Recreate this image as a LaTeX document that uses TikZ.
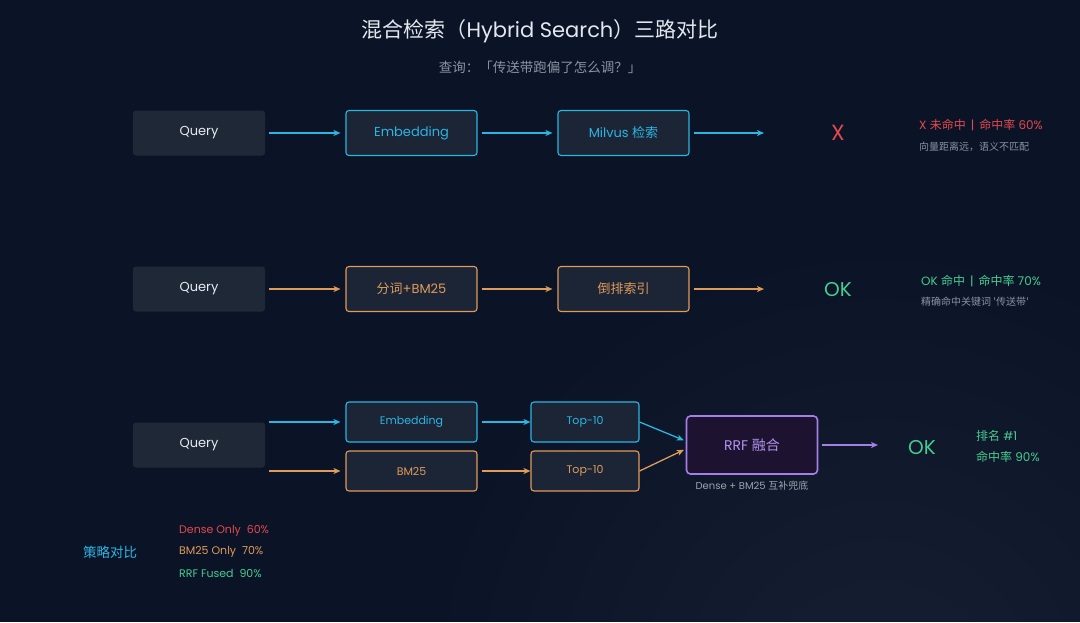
\documentclass[tikz,border=0pt]{standalone}
\usepackage{fontspec}
\setmainfont{Poppins}
\newfontfamily\cjk{Noto Sans CJK SC}
\newcommand{\zh}[1]{{\cjk #1}}
\newcommand{\sep}{\hspace{5pt}|\hspace{5pt}}
\usepackage{xcolor}
\usetikzlibrary{arrows.meta}

\definecolor{bgnavy}{HTML}{0B1426}
\definecolor{qfill}{HTML}{1F2836}
\definecolor{boxfill}{HTML}{1B2536}
\definecolor{rrffill}{HTML}{1D1331}
\definecolor{cyanline}{HTML}{2BB5E3}
\definecolor{orangeline}{HTML}{E09A5A}
\definecolor{purpleline}{HTML}{A47FE8}
\definecolor{redtext}{HTML}{E5484D}
\definecolor{greentext}{HTML}{45CC90}
\definecolor{greytext}{HTML}{8A93A3}
\definecolor{titletext}{HTML}{E3E8EF}

\begin{document}
\begin{tikzpicture}[x=1pt,y=-1pt]
	
	\tikzset{
		query/.style={fill=qfill, rounded corners=3pt,
			minimum width=132pt, minimum height=45pt,
			text=titletext!90, font=\fontsize{13}{15}\selectfont},
		stage/.style={draw=#1, fill=boxfill, rounded corners=3pt,
			line width=1.1pt, minimum width=131pt, minimum height=45pt,
			text=#1, font=\fontsize{13}{15}\selectfont},
		substage/.style={stage=#1, minimum height=40pt,
			font=\fontsize{11}{13}\selectfont},
		flow/.style={draw=#1, line width=1.3pt,
			-{Stealth[length=7pt,width=6pt,inset=2pt]}},
		note/.style={anchor=west, inner sep=0pt, font=\fontsize{12}{14}\selectfont},
		hint/.style={anchor=west, inner sep=0pt, text=greytext,
			font=\fontsize{10}{12}\selectfont},
		verdict/.style={font=\fontsize{20}{24}\selectfont}
	}
	
	\useasboundingbox (0,0) rectangle (1080,622);
	\fill[bgnavy] (0,0) rectangle (1080,622);
	\begin{scope}
		\clip (0,0) rectangle (1080,622);
		\foreach \r in {440,400,...,120}
			\fill[white, opacity=0.007] (880,700) circle (\r);
	\end{scope}
	
	% title
	\node[text=titletext, font=\fontsize{21}{25}\selectfont] (title) at (540,31)
		{\zh{混合检索（}Hybrid Search\zh{）三路对比}};
	\node[text=greytext, font=\fontsize{13.5}{16}\cjk] (ask) at (540,67)
		{查询：「传送带跑偏了怎么调？」};
	
	% dense only
	\node[query] (q1) at (199,133) {Query};
	\node[stage=cyanline] (e1) at (411.5,133) {Embedding};
	\node[stage=cyanline] (m1) at (623.5,133) {Milvus \zh{检索}};
	\coordinate (end1) at (764,133);
	\node[verdict, text=redtext, font=\fontsize{22}{26}\selectfont] (x1) at (838,133) {X};
	\draw[flow=cyanline, shorten <=4pt, shorten >=5pt] (q1) -- (e1);
	\draw[flow=cyanline, shorten <=4pt, shorten >=5pt] (e1) -- (m1);
	\draw[flow=cyanline, shorten <=4pt] (m1) -- (end1);
	\node[note, text=redtext] (r1) at (919,125) {X \zh{未命中}\sep\zh{命中率} 60\%};
	\node[hint] (d1) at (919,147) {\zh{向量距离远，语义不匹配}};
	
	% bm25 only
	\node[query] (q2) at (199,289) {Query};
	\node[stage=orangeline] (e2) at (411.5,289) {\zh{分词}+BM25};
	\node[stage=orangeline] (m2) at (623.5,289) {\zh{倒排索引}};
	\coordinate (end2) at (764,289);
	\node[verdict, text=greentext] (x2) at (838,290) {OK};
	\draw[flow=orangeline, shorten <=4pt, shorten >=5pt] (q2) -- (e2);
	\draw[flow=orangeline, shorten <=4pt, shorten >=5pt] (e2) -- (m2);
	\draw[flow=orangeline, shorten <=4pt] (m2) -- (end2);
	\node[note, text=greentext] (r2) at (921,281) {OK \zh{命中}\sep\zh{命中率} 70\%};
	\node[hint] (d2) at (921,302) {\zh{精确命中关键词 '传送带'}};
	
	% rrf fused
	\node[query] (q3) at (199,445) {Query};
	\node[substage=cyanline] (e3) at (411.5,422) {Embedding};
	\node[substage=orangeline] (b3) at (411.5,471) {BM25};
	\node[substage=cyanline, minimum width=108pt] (t3) at (585,422) {Top-10};
	\node[substage=orangeline, minimum width=108pt] (u3) at (585,471) {Top-10};
	\node[draw=purpleline, fill=rrffill, rounded corners=4pt, line width=1.6pt,
		minimum width=131pt, minimum height=58pt, text=purpleline!85!white,
		font=\fontsize{14}{16}\selectfont] (rrf) at (752,445) {RRF \zh{融合}};
	\coordinate (end3) at (878,445);
	\node[verdict, text=greentext] (x3) at (922,448) {OK};
	\draw[flow=cyanline, shorten <=4pt, shorten >=5pt] (q3.east |- e3.west) -- (e3.west);
	\draw[flow=orangeline, shorten <=4pt, shorten >=5pt] (q3.east |- b3.west) -- (b3.west);
	\draw[flow=cyanline, shorten <=4pt] (e3) -- (t3);
	\draw[flow=orangeline, shorten <=4pt] (b3) -- (u3);
	\draw[flow=cyanline, shorten >=2pt] (t3.east) -- ([yshift=4pt]rrf.west);
	\draw[flow=orangeline, shorten >=2pt] (u3.east) -- ([yshift=-4pt]rrf.west);
	\draw[flow=purpleline, line width=2pt, shorten <=4pt] (rrf.east) -- (end3);
	\node[text=greytext!85, font=\fontsize{10}{12}\selectfont] (d3) at (752,486)
		{Dense + BM25 \zh{互补兜底}};
	\node[note, text=greentext] (r3) at (976,436) {\zh{排名} \#1};
	\node[note, text=greentext] (s3) at (976,457) {\zh{命中率} 90\%};
	
	% legend
	\node[text=cyanline, font=\fontsize{13.5}{16}\cjk] (legend) at (110,552) {策略对比};
	\node[note, text=redtext, font=\fontsize{11}{13}\selectfont] (l1) at (179,531) {Dense Only~~60\%};
	\node[note, text=orangeline, font=\fontsize{11}{13}\selectfont] (l2) at (179,552) {BM25 Only~~70\%};
	\node[note, text=greentext, font=\fontsize{11}{13}\selectfont] (l3) at (179,573) {RRF Fused~~90\%};
	
\end{tikzpicture}
\end{document}
